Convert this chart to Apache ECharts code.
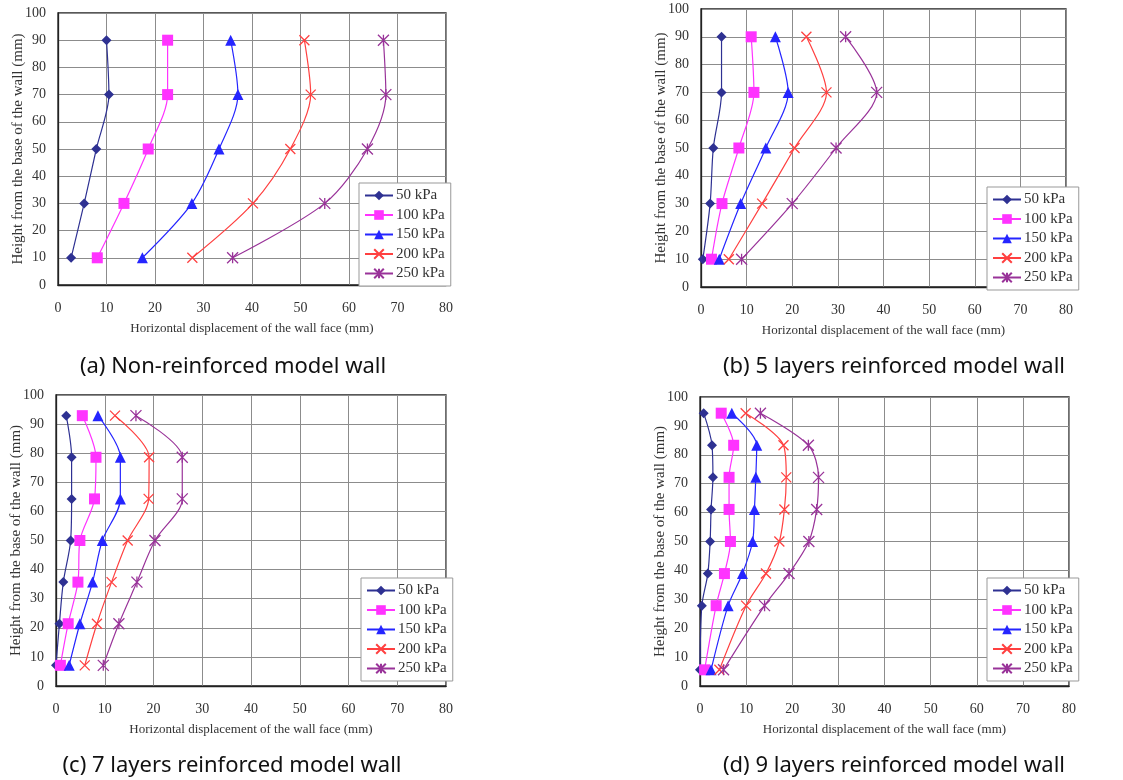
<!DOCTYPE html>
<html>
<head>
<meta charset="utf-8">
<title>Horizontal displacement of the wall face</title>
<script src="https://cdn.jsdelivr.net/npm/echarts@6/dist/echarts.min.js"></script>
<style>
    html, body {margin: 0; padding: 0; background: #fff;}
    #chart {width: 1123px; height: 780px;}
</style>
</head>
<body>
<div id="chart"></div>
<script>
// load levels (legend names)
var loadNames = ['50 kPa', '100 kPa', '150 kPa', '200 kPa', '250 kPa'];

var colorList = ['#2E3192', '#FF33FF', '#2525FF', '#FF4040', '#993399'];

var xTicks = [0, 10, 20, 30, 40, 50, 60, 70, 80];
var yTicks = [0, 10, 20, 30, 40, 50, 60, 70, 80, 90, 100];

var captions = [
    '(a) Non-reinforced model wall',
    '(b) 5 layers reinforced model wall',
    '(c) 7 layers reinforced model wall',
    '(d) 9 layers reinforced model wall'
];

// (a) non-reinforced: heights (mm) and displacement (mm)
var heightsA = [10, 30, 50, 70, 90];
var dispA50  = [2.7, 5.4, 7.9, 10.5, 10.0];
var dispA100 = [8.1, 13.6, 18.6, 22.6, 22.6];
var dispA150 = [17.4, 27.6, 33.2, 37.1, 35.6];
var dispA200 = [27.7, 40.2, 47.9, 52.1, 50.8];
var dispA250 = [36.0, 55.0, 63.8, 67.6, 67.1];

// (b) 5 layers
var heightsB = [10, 30, 50, 70, 90];
var dispB50  = [0.4, 2.0, 2.7, 4.5, 4.5];
var dispB100 = [2.3, 4.6, 8.3, 11.6, 11.0];
var dispB150 = [4.0, 8.7, 14.2, 19.1, 16.3];
var dispB200 = [6.1, 13.4, 20.5, 27.5, 23.1];
var dispB250 = [8.9, 20.0, 29.6, 38.5, 31.7];

// (c) 7 layers
var heightsC = [7.1, 21.4, 35.7, 50, 64.3, 78.6, 92.9];
var dispC50  = [0.0, 0.7, 1.5, 3.0, 3.2, 3.2, 2.1];
var dispC100 = [0.9, 2.5, 4.5, 4.9, 7.9, 8.2, 5.4];
var dispC150 = [2.7, 4.9, 7.5, 9.5, 13.2, 13.2, 8.6];
var dispC200 = [5.9, 8.4, 11.4, 14.7, 19.0, 19.1, 12.1];
var dispC250 = [9.7, 12.9, 16.6, 20.3, 25.9, 25.9, 16.4];

// (d) 9 layers
var heightsD = [5.6, 27.8, 38.9, 50, 61.1, 72.2, 83.3, 94.4];
var dispD50  = [0.0, 0.4, 1.7, 2.2, 2.4, 2.8, 2.6, 0.8];
var dispD100 = [1.0, 3.5, 5.3, 6.6, 6.3, 6.3, 7.3, 4.6];
var dispD150 = [2.4, 6.1, 9.2, 11.4, 11.8, 12.1, 12.3, 6.9];
var dispD200 = [4.2, 10.0, 14.3, 17.2, 18.3, 18.7, 18.1, 9.9];
var dispD250 = [5.1, 14.0, 19.3, 23.6, 25.3, 25.7, 23.5, 13.1];

var panels = [
    {heights: heightsA, values: [dispA50, dispA100, dispA150, dispA200, dispA250]},
    {heights: heightsB, values: [dispB50, dispB100, dispB150, dispB200, dispB250]},
    {heights: heightsC, values: [dispC50, dispC100, dispC150, dispC200, dispC250]},
    {heights: heightsD, values: [dispD50, dispD100, dispD150, dispD200, dispD250]}
];

// plot areas, legend boxes, captions (pixels)
var gridPos = [
    {left: 58, top: 13, width: 388, height: 272},
    {left: 701, top: 9, width: 365, height: 278},
    {left: 56, top: 395, width: 390, height: 291},
    {left: 700, top: 397, width: 369, height: 289}
];
var legendPos = [
    {left: 359, top: 183},
    {left: 987, top: 187},
    {left: 361, top: 578},
    {left: 987, top: 578}
];
var captionPos = [[233, 367], [894, 367], [232, 766], [894, 766]];

var symbolList = [
    'diamond',
    'rect',
    'triangle',
    'path://M0,0L10,10M10,0L0,10',
    'path://M0,0L10,10M10,0L0,10M5,0L5,10'
];
var symbolSizes = [10, 11, 11, 10, 11];

var serifFont = '"Liberation Serif", "DejaVu Serif", serif';

function pairs(xs, ys) {
    var out = [];
    for (var i = 0; i < xs.length; i++) {
        out.push([xs[i], ys[i]]);
    }
    return out;
}

function pageOnload() {
    var myChart = echarts.init(document.getElementById('chart'), null, {renderer: 'canvas'});

    var grids = [], xAxes = [], yAxes = [], legends = [], series = [], graphics = [];

    for (var p = 0; p < panels.length; p++) {
        grids.push({
            left: gridPos[p].left, top: gridPos[p].top,
            width: gridPos[p].width, height: gridPos[p].height,
            show: true, borderColor: '#222', borderWidth: 1.3, backgroundColor: '#fff'
        });

        xAxes.push({
            type: 'value', gridIndex: p,
            min: xTicks[0], max: xTicks[xTicks.length - 1], interval: 10,
            name: 'Horizontal displacement of the wall face (mm)',
            nameLocation: 'middle', nameGap: 37, nameMoveOverlap: false,
            nameTextStyle: {fontFamily: serifFont, fontSize: 13, color: '#333'},
            axisLine: {show: true, onZero: false, lineStyle: {color: '#222', width: 1.3}},
            axisTick: {show: false},
            axisLabel: {margin: 16, fontFamily: serifFont, fontSize: 14, color: '#333'},
            splitLine: {show: true, lineStyle: {color: '#8c8c8c', width: 1}}
        });

        yAxes.push({
            type: 'value', gridIndex: p,
            min: yTicks[0], max: yTicks[yTicks.length - 1], interval: 10,
            name: 'Height from the base of the wall (mm)',
            nameLocation: 'middle', nameGap: 32, nameMoveOverlap: false,
            nameTextStyle: {fontFamily: serifFont, fontSize: 15, color: '#333'},
            axisLine: {show: true, onZero: false, lineStyle: {color: '#222', width: 1.3}},
            axisTick: {show: false},
            axisLabel: {margin: 12, fontFamily: serifFont, fontSize: 14, color: '#333'},
            splitLine: {show: true, lineStyle: {color: '#8c8c8c', width: 1}}
        });

        legends.push({
            data: loadNames,
            orient: 'vertical',
            left: legendPos[p].left, top: legendPos[p].top,
            backgroundColor: '#fff', borderColor: '#999', borderWidth: 1,
            padding: [5, 6, 5, 5],
            itemWidth: 28, itemHeight: 12, itemGap: 4.5,
            selectedMode: false,
            textStyle: {fontFamily: serifFont, fontSize: 15, color: '#333', padding: [0, 0, 0, -2]}
        });

        for (var s = 0; s < loadNames.length; s++) {
            series.push({
                name: loadNames[s],
                type: 'line',
                xAxisIndex: p, yAxisIndex: p,
                smooth: 0.3,
                symbol: symbolList[s],
                symbolSize: symbolSizes[s],
                showAllSymbol: true,
                clip: false,
                lineStyle: {color: colorList[s], width: 1.2},
                itemStyle: {color: colorList[s], borderColor: colorList[s], borderWidth: s >= 3 ? 1.3 : 0},
                emphasis: {disabled: true},
                data: pairs(panels[p].values[s], panels[p].heights)
            });
        }

        graphics.push({
            type: 'text',
            x: captionPos[p][0], y: captionPos[p][1],
            style: {
                text: captions[p],
                fontFamily: '"Noto Sans", "DejaVu Sans", sans-serif',
                fontSize: 22,
                fill: '#111',
                textAlign: 'center',
                textVerticalAlign: 'middle'
            }
        });
    }

    var option = {
        animation: false,
        backgroundColor: '#fff',
        grid: grids,
        xAxis: xAxes,
        yAxis: yAxes,
        legend: legends,
        series: series,
        graphic: graphics
    };

    myChart.setOption(option);
}

pageOnload();
</script>
</body>
</html>
